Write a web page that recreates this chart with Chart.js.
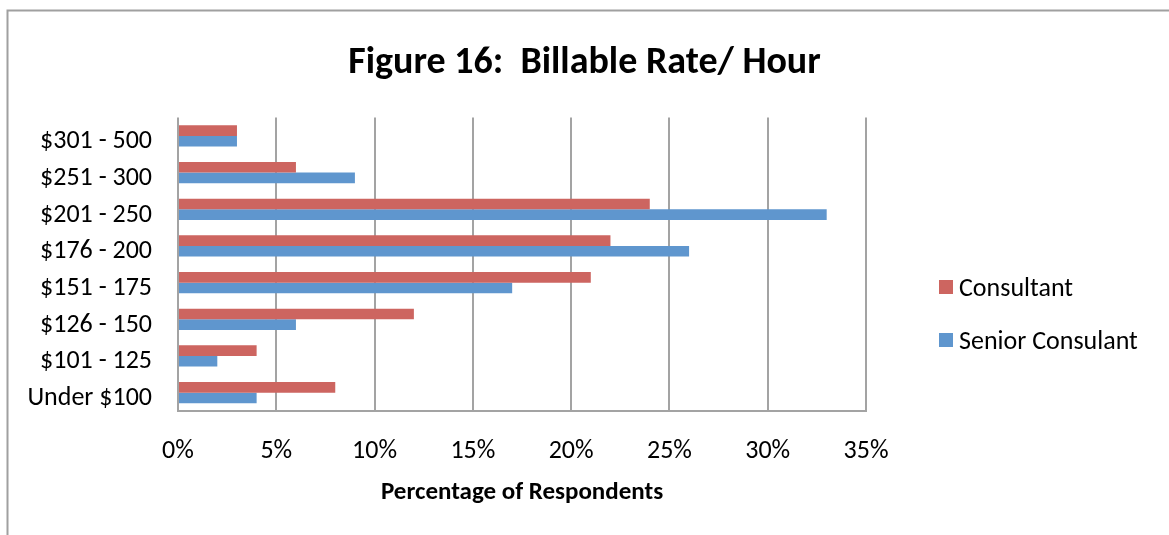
<!DOCTYPE html>
<html>
<head>
<meta charset="utf-8">
<script src="https://cdn.jsdelivr.net/npm/chart.js@4.4.1/dist/chart.umd.min.js"></script>
<style>
  html, body { margin: 0; padding: 0; background: #ffffff; }
  #wrap { position: relative; width: 1169px; height: 535px; }
</style>
</head>
<body>
<div id="wrap"><canvas id="chart" width="1169" height="535"></canvas></div>
<script>
// Billable hourly rate brackets, top to bottom
const categories = [
  "$301 - 500",
  "$251 - 300",
  "$201 - 250",
  "$176 - 200",
  "$151 - 175",
  "$126 - 150",
  "$101 - 125",
  "Under $100"
];

// Share of respondents (%) per bracket
const consultant       = [3, 6, 24, 22, 21, 12, 4, 8];
const seniorConsulant  = [3, 9, 33, 26, 17, 6, 2, 4];

const seriesNames = ["Consultant", "Senior Consulant"];
const xTicks = [0, 5, 10, 15, 20, 25, 30, 35];

const FONT = "Carlito, Lato, 'Liberation Sans', sans-serif";
const GRID = "#a3a3a3";

// Frame line along the top and left edges of the figure
const framePlugin = {
  id: "frame",
  beforeDraw(chart) {
    const ctx = chart.ctx;
    ctx.save();
    ctx.fillStyle = "#ffffff";
    ctx.fillRect(0, 0, chart.width, chart.height);
    ctx.strokeStyle = "#a0a0a0";
    ctx.lineWidth = 2;
    ctx.beginPath();
    ctx.moveTo(7.5, chart.height);
    ctx.lineTo(7.5, 10.5);
    ctx.lineTo(chart.width, 10.5);
    ctx.stroke();
    ctx.restore();
  }
};

// Legend stacked at the right of the plot
const sideLegend = {
  id: "sideLegend",
  afterDraw(chart) {
    const ctx = chart.ctx;
    const rows = [287, 340];
    ctx.save();
    ctx.font = "26px " + FONT;
    ctx.textBaseline = "middle";
    ctx.textAlign = "left";
    chart.data.datasets.forEach((ds, i) => {
      const y = rows[i];
      ctx.fillStyle = ds.backgroundColor;
      ctx.fillRect(939, y - 7, 14, 14);
      ctx.fillStyle = "#000000";
      ctx.fillText(ds.label, 959, y + 2);
    });
    ctx.restore();
  }
};

new Chart(document.getElementById("chart"), {
  type: "bar",
  data: {
    labels: categories,
    datasets: [
      {
        label: seriesNames[0],
        data: consultant,
        backgroundColor: "#cd6560",
        borderWidth: 0,
        categoryPercentage: 0.58,
        barPercentage: 1.0
      },
      {
        label: seriesNames[1],
        data: seniorConsulant,
        backgroundColor: "#5f96ce",
        borderWidth: 0,
        categoryPercentage: 0.58,
        barPercentage: 1.0
      }
    ]
  },
  options: {
    indexAxis: "y",
    responsive: false,
    animation: false,
    devicePixelRatio: 1,
    layout: { padding: 0 },
    plugins: {
      legend: { display: false },
      tooltip: { enabled: false },
      title: {
        display: true,
        text: "Figure 16:  Billable Rate/ Hour",
        color: "#000000",
        font: { family: FONT, size: 38, weight: "bold", lineHeight: 1.2 },
        padding: { top: 41, bottom: 31 }
      }
    },
    scales: {
      x: {
        type: "linear",
        min: 0,
        max: 35,
        afterBuildTicks(scale) {
          scale.ticks = xTicks.map(v => ({ value: v }));
        },
        afterFit(scale) { scale.height = 124; },
        grid: { color: GRID, lineWidth: 2, drawTicks: false },
        border: { display: true, color: GRID, width: 2 },
        ticks: {
          padding: 25,
          color: "#000000",
          font: { family: FONT, size: 26 },
          callback: v => v + "%"
        },
        title: {
          display: true,
          text: "Percentage of Respondents",
          color: "#000000",
          font: { family: FONT, size: 25, weight: "bold", lineHeight: 1.2 },
          padding: { top: 0, bottom: 27 }
        }
      },
      y: {
        type: "category",
        afterFit(scale) { scale.width = 178; },
        grid: { display: false, drawTicks: false },
        border: { display: false },
        ticks: {
          padding: 26,
          labelOffset: 6,
          color: "#000000",
          font: { family: FONT, size: 26 }
        }
      },
      // empty right-hand band that holds the legend
      legendBand: {
        type: "category",
        position: "right",
        afterFit(scale) { scale.width = 303; },
        grid: { display: false, drawTicks: false },
        border: { display: false },
        ticks: { display: false }
      }
    }
  },
  plugins: [framePlugin, sideLegend]
});
</script>
</body>
</html>
